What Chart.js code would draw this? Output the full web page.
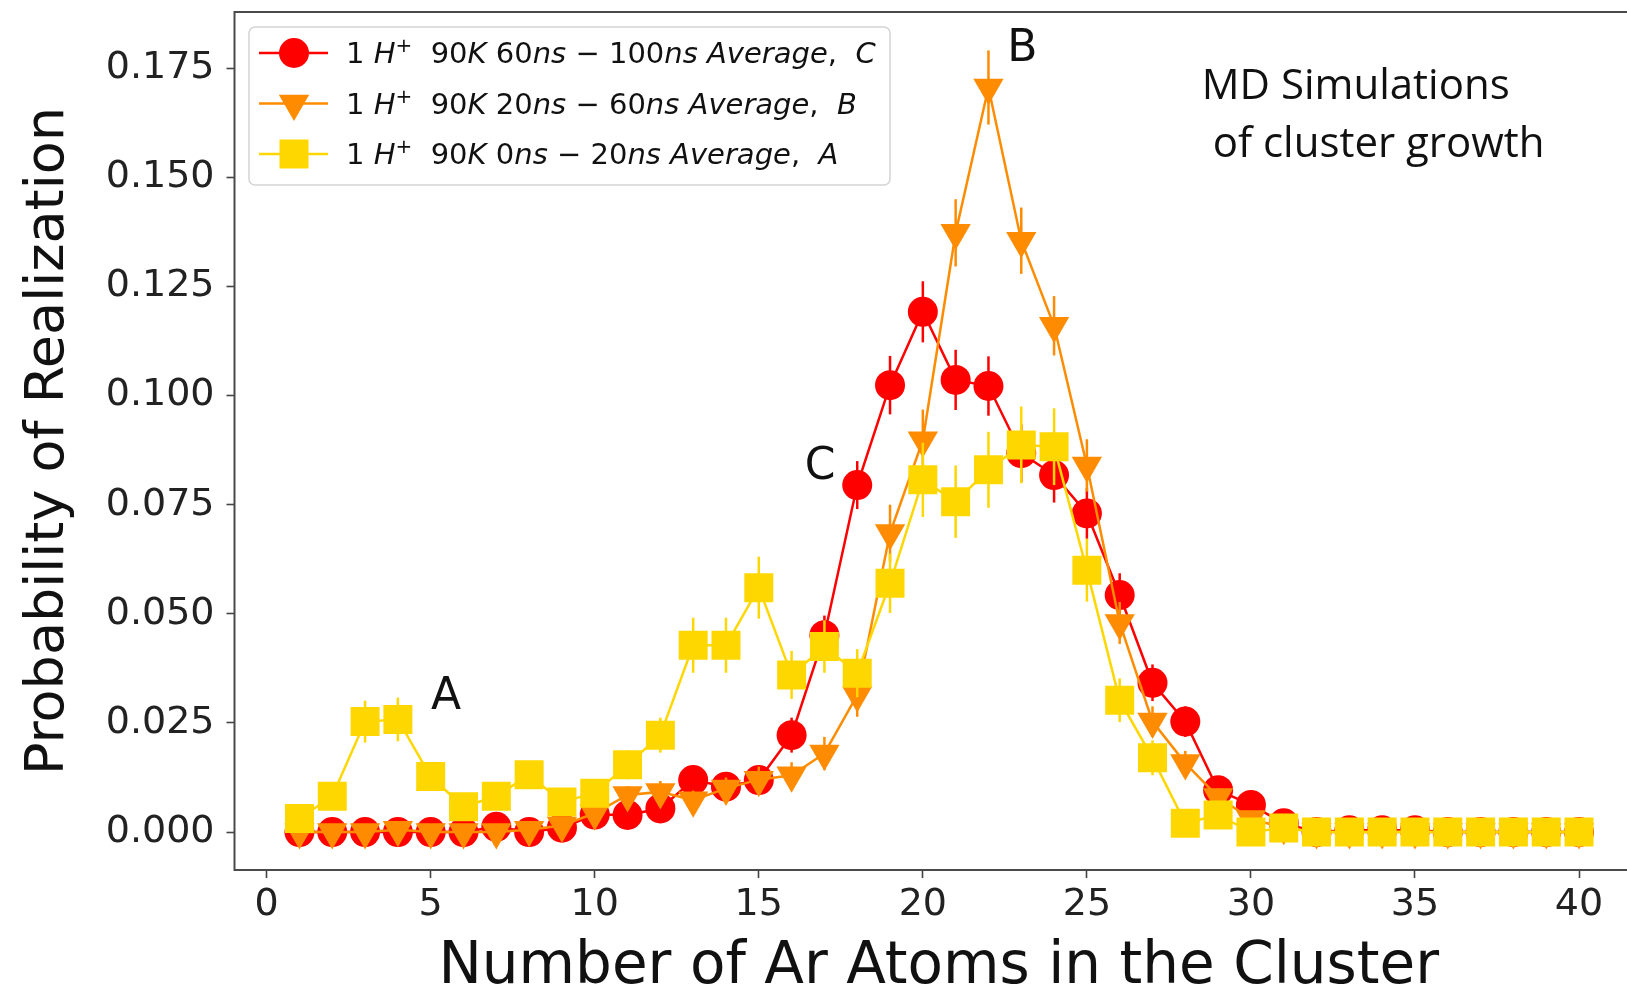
<!DOCTYPE html>
<html>
<head>
<meta charset="utf-8">
<script src="https://cdn.jsdelivr.net/npm/chart.js@4.4.1/dist/chart.umd.min.js"></script>
<style>
html, body { margin: 0; padding: 0; background: #fff; overflow: hidden; }
#wrap { width: 1627px; height: 985px; overflow: hidden; }
</style>
</head>
<body>
<div id="wrap"><canvas id="clusterChart" width="1660" height="985"></canvas></div>
<script>
// cluster size (number of Ar atoms)
const clusterSize = [1, 2, 3, 4, 5, 6, 7, 8, 9, 10, 11, 12, 13, 14, 15, 16, 17, 18, 19, 20,
    21, 22, 23, 24, 25, 26, 27, 28, 29, 30, 31, 32, 33, 34, 35, 36, 37, 38, 39, 40];

// C : 60ns - 100ns average
const probC = [0, 0, 0, 0, 0, 0, 0.0012, 0, 0.001, 0.004, 0.0039, 0.0054, 0.0119, 0.0104, 0.0119, 0.0222, 0.0451, 0.0795, 0.1024, 0.1192,
    0.1036, 0.1022, 0.0868, 0.0818, 0.073, 0.0543, 0.0342, 0.0253, 0.0096, 0.0062, 0.002, 0, 0.0004, 0.0004, 0.0004, 0, 0, 0, 0, 0];
const errC = [0, 0, 0, 0, 0, 0, 0.001, 0, 0.001, 0.0015, 0.002, 0.002, 0.003, 0.003, 0.003, 0.004, 0.0045, 0.0055, 0.0067, 0.007,
    0.0069, 0.0068, 0.0066, 0.0063, 0.0058, 0.005, 0.0042, 0.0035, 0.0022, 0.0018, 0.001, 0, 0, 0, 0, 0, 0, 0, 0, 0];

// B : 20ns - 60ns average
const probB = [0, 0, 0, 0.0005, 0, 0, 0, 0.0005, 0.0015, 0.0043, 0.0085, 0.0092, 0.0073, 0.010, 0.012, 0.013, 0.018, 0.0314, 0.0685, 0.0898,
    0.1373, 0.1706, 0.1355, 0.116, 0.084, 0.0479, 0.0253, 0.0158, 0.008, 0.003, 0.001, 0, 0, 0, 0, 0, 0, 0, 0, 0];
const errB = [0, 0, 0, 0.0005, 0, 0, 0, 0.0005, 0.001, 0.0015, 0.002, 0.0025, 0.0022, 0.0025, 0.003, 0.003, 0.0038, 0.005, 0.0065, 0.007,
    0.0077, 0.0085, 0.0076, 0.0068, 0.006, 0.0048, 0.0035, 0.0028, 0.002, 0.0012, 0.0008, 0, 0, 0, 0, 0, 0, 0, 0, 0];

// A : 0ns - 20ns average
const probA = [0.0031, 0.0082, 0.0253, 0.0258, 0.0127, 0.0058, 0.0082, 0.0131, 0.0069, 0.0089, 0.0154, 0.0222, 0.0428, 0.0428, 0.056, 0.036, 0.0425, 0.0364, 0.057, 0.0807,
    0.0757, 0.083, 0.0887, 0.0883, 0.060, 0.0302, 0.017, 0.002, 0.0039, 0, 0.0009, 0, 0, 0, 0, 0, 0, 0, 0, 0];
const errA = [0.0015, 0.0025, 0.0048, 0.005, 0.0032, 0.002, 0.0025, 0.003, 0.0022, 0.0025, 0.0033, 0.004, 0.0063, 0.0063, 0.0071, 0.0055, 0.006, 0.0055, 0.0068, 0.0085,
    0.0083, 0.0087, 0.0088, 0.0088, 0.0072, 0.005, 0.004, 0.0012, 0.0018, 0, 0.001, 0, 0, 0, 0, 0, 0, 0, 0, 0];

// legend text, split in upright ('n'), italic ('i') and superscript ('s') pieces
const seriesLabels = [
    [['1 ', 'n'], ['H', 'i'], ['+', 's'], ['  90', 'n'], ['K', 'i'], [' 60', 'n'], ['ns', 'i'], [' \u2212 100', 'n'], ['ns', 'i'], [' ', 'n'], ['Average', 'i'], [',  ', 'n'], ['C', 'i']],
    [['1 ', 'n'], ['H', 'i'], ['+', 's'], ['  90', 'n'], ['K', 'i'], [' 20', 'n'], ['ns', 'i'], [' \u2212 60', 'n'], ['ns', 'i'], [' ', 'n'], ['Average', 'i'], [',  ', 'n'], ['B', 'i']],
    [['1 ', 'n'], ['H', 'i'], ['+', 's'], ['  90', 'n'], ['K', 'i'], [' 0', 'n'], ['ns', 'i'], [' \u2212 20', 'n'], ['ns', 'i'], [' ', 'n'], ['Average', 'i'], [',  ', 'n'], ['A', 'i']]
];

// peak labels
const peakLabels = ['A', 'B', 'C'];
const peakX = [5.47, 23.03, 16.87];
const peakY = [0.0307, 0.1792, 0.0836];

const noteLines = ['MD Simulations', ' of cluster growth'];
const noteX = [28.5, 28.5];
const noteY = [0.168, 0.1547];

const colors = ['#ff0000', '#ff8c00', '#ffd700'];
const markers = ['circle', 'triangle', 'rect'];

var myChart;

function drawMarker(ctx, style, x, y, color) {
    ctx.fillStyle = color;
    ctx.beginPath();
    if (style === 'circle') {
        ctx.arc(x, y, 15, 0, Math.PI * 2);
    } else if (style === 'rect') {
        ctx.rect(x - 14.5, y - 14.5, 29, 29);
    } else {
        // downward triangle
        ctx.moveTo(x - 15.2, y - 8.75);
        ctx.lineTo(x + 15.2, y - 8.75);
        ctx.lineTo(x, y + 17.5);
        ctx.closePath();
    }
    ctx.fill();
}

const errorBars = {
    id: 'errorBars',
    afterDatasetDraw(chart, args) {
        const ds = chart.data.datasets[args.index];
        const yScale = chart.scales.y;
        const ctx = chart.ctx;
        ctx.save();
        ctx.strokeStyle = ds.borderColor;
        ctx.lineWidth = 2.5;
        args.meta.data.forEach((pt, j) => {
            const e = ds.errors[j];
            if (!e) return;
            const v = ds.data[j].y;
            ctx.beginPath();
            ctx.moveTo(pt.x, yScale.getPixelForValue(v - e));
            ctx.lineTo(pt.x, yScale.getPixelForValue(v + e));
            ctx.stroke();
        });
        ctx.restore();
    }
};

const frame = {
    id: 'frame',
    afterDatasetsDraw(chart) {
        const a = chart.chartArea;
        const ctx = chart.ctx;
        ctx.save();
        ctx.strokeStyle = '#4a4a4a';
        ctx.lineWidth = 2;
        ctx.strokeRect(a.left, a.top, a.right - a.left, a.bottom - a.top);
        ctx.restore();
    }
};

const textLayer = {
    id: 'textLayer',
    afterDraw(chart) {
        const ctx = chart.ctx;
        const xs = chart.scales.x, ys = chart.scales.y;
        ctx.save();
        ctx.fillStyle = '#111';

        ctx.font = '44px "DejaVu Sans"';
        ctx.textAlign = 'center';
        ctx.textBaseline = 'middle';
        peakLabels.forEach((t, i) => {
            ctx.fillText(t, xs.getPixelForValue(peakX[i]), ys.getPixelForValue(peakY[i]));
        });

        ctx.font = '42px "Open Sans"';
        ctx.textAlign = 'left';
        ctx.textBaseline = 'alphabetic';
        noteLines.forEach((t, i) => {
            ctx.fillText(t, xs.getPixelForValue(noteX[i]), ys.getPixelForValue(noteY[i]));
        });

        // legend
        ctx.beginPath();
        ctx.roundRect(249, 27, 641, 158, 6);
        ctx.fillStyle = 'rgba(255,255,255,0.85)';
        ctx.fill();
        ctx.strokeStyle = '#d4d4d4';
        ctx.lineWidth = 1.5;
        ctx.stroke();

        seriesLabels.forEach((parts, i) => {
            const y = 53 + i * 50.5;
            ctx.strokeStyle = colors[i];
            ctx.lineWidth = 2.5;
            ctx.beginPath();
            ctx.moveTo(259, y);
            ctx.lineTo(328, y);
            ctx.stroke();
            drawMarker(ctx, markers[i], 294, y, colors[i]);

            ctx.fillStyle = '#111';
            let x = 346;
            parts.forEach(([txt, kind]) => {
                if (kind === 'i') ctx.font = 'italic 29px "DejaVu Sans"';
                else if (kind === 's') ctx.font = '20px "DejaVu Sans"';
                else ctx.font = '29px "DejaVu Sans"';
                ctx.fillText(txt, x, kind === 's' ? y - 1 : y + 10);
                x += ctx.measureText(txt).width;
            });
        });
        ctx.restore();
    }
};

function generateChart() {
    const ctx = document.getElementById('clusterChart').getContext('2d');

    Chart.defaults.font.family = '"DejaVu Sans", sans-serif';
    Chart.defaults.color = '#222';

    const series = [probC, probB, probA];
    const errs = [errC, errB, errA];

    const datasets = series.map((vals, i) => ({
        data: clusterSize.map((n, j) => ({ x: n, y: vals[j] })),
        errors: errs[i],
        borderColor: colors[i],
        backgroundColor: colors[i],
        borderWidth: 2.5,
        pointStyle: markers[i],
        pointRadius: [15, 17.5, 20.5][i],
        pointHoverRadius: [15, 17.5, 20.5][i],
        pointRotation: markers[i] === 'triangle' ? 180 : 0,
        pointBackgroundColor: colors[i],
        pointBorderWidth: 0,
        tension: 0,
        order: 3 - i // yellow drawn on top
    }));

    myChart = new Chart(ctx, {
        type: 'line',
        data: { datasets: datasets },
        plugins: [errorBars, frame, textLayer],
        options: {
            responsive: false,
            animation: false,
            layout: { autoPadding: false, padding: { top: 12, right: 17, left: 0, bottom: 0 } },
            plugins: { legend: { display: false }, tooltip: { enabled: false } },
            scales: {
                x: {
                    type: 'linear',
                    min: -0.98,
                    max: 41.95,
                    afterFit: s => { s.height = 115; s.paddingLeft = 0; s.paddingRight = 0; },
                    border: { display: false },
                    grid: { drawOnChartArea: false, drawTicks: true, tickLength: 8, tickColor: '#444', tickWidth: 1.6 },
                    ticks: { stepSize: 5, includeBounds: false, autoSkip: false, maxRotation: 0, padding: 4, font: { size: 38 } },
                    title: {
                        display: true,
                        text: 'Number of Ar Atoms in the Cluster',
                        color: '#111',
                        font: { size: 58, lineHeight: 1 },
                        padding: { top: 0, bottom: -12 }
                    }
                },
                y: {
                    min: -0.0087,
                    max: 0.1879,
                    afterFit: s => { s.width = 234.5; s.paddingTop = 0; s.paddingBottom = 0; },
                    border: { display: false },
                    grid: { drawOnChartArea: false, drawTicks: true, tickLength: 8, tickColor: '#444', tickWidth: 1.6 },
                    ticks: { stepSize: 0.025, includeBounds: false, padding: 12, font: { size: 38 }, callback: v => v.toFixed(3) },
                    title: {
                        display: true,
                        text: 'Probability of Realization',
                        color: '#111',
                        font: { size: 54, lineHeight: 1 },
                        padding: { top: 22, bottom: 0 }
                    }
                }
            }
        }
    });
}

generateChart();
</script>
</body>
</html>
